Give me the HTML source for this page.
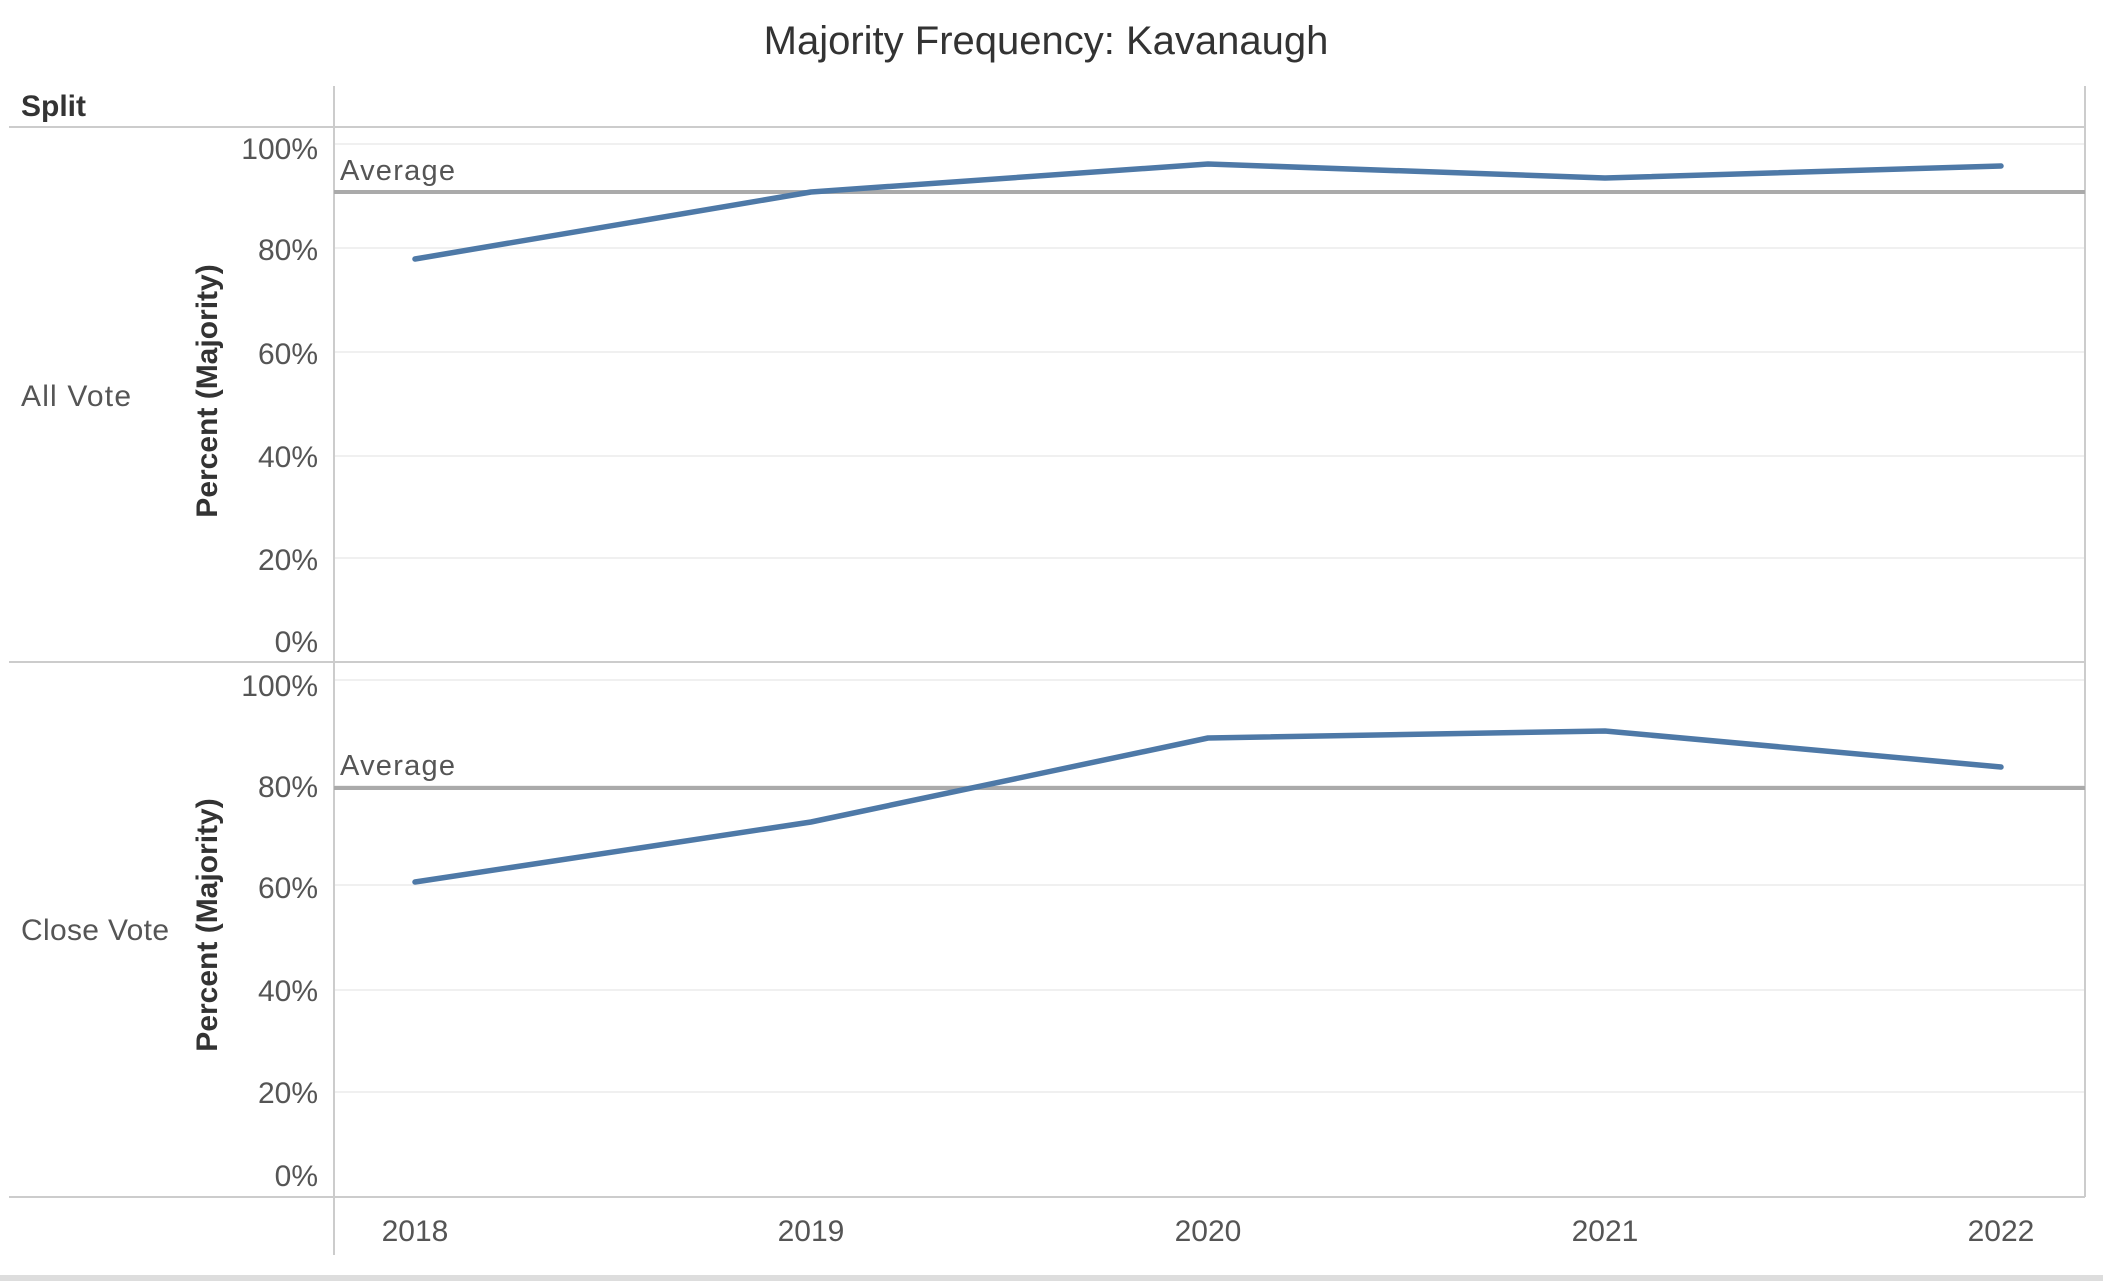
<!DOCTYPE html>
<html><head><style>body{margin:0;background:#fff}svg{display:block}</style></head><body>
<svg width="2103" height="1281" xmlns="http://www.w3.org/2000/svg" font-family="Liberation Sans, sans-serif">
<text x="1046" y="54" font-size="40" fill="#333" text-anchor="middle">Majority Frequency: Kavanaugh</text>
<text x="21" y="116" font-size="30" font-weight="bold" fill="#333">Split</text>
<g stroke="#f0f0f0" stroke-width="2">
<line x1="334" x2="2085" y1="144" y2="144"/><line x1="334" x2="2085" y1="248" y2="248"/><line x1="334" x2="2085" y1="352" y2="352"/><line x1="334" x2="2085" y1="456" y2="456"/><line x1="334" x2="2085" y1="558" y2="558"/>
<line x1="334" x2="2085" y1="680" y2="680"/><line x1="334" x2="2085" y1="786" y2="786"/><line x1="334" x2="2085" y1="885" y2="885"/><line x1="334" x2="2085" y1="990" y2="990"/><line x1="334" x2="2085" y1="1092" y2="1092"/>
</g>
<g stroke="#ccc" stroke-width="2">
<line x1="9" x2="2085" y1="127" y2="127"/>
<line x1="9" x2="2085" y1="662" y2="662"/>
<line x1="9" x2="2085" y1="1197" y2="1197"/>
<line x1="334" x2="334" y1="86" y2="1255"/>
<line x1="2085" x2="2085" y1="86" y2="1197"/>
</g>
<rect x="0" y="1275" width="2103" height="6" fill="#ddd"/>
<g stroke="#aaa" stroke-width="4">
<line x1="334" x2="2085" y1="192" y2="192"/>
<line x1="334" x2="2085" y1="788" y2="788"/>
</g>
<g font-size="29" fill="#555">
<text x="340" y="180" textLength="115">Average</text>
<text x="340" y="775" textLength="115">Average</text>
</g>
<g font-size="30" fill="#555" text-anchor="end">
<text x="318" y="159">100%</text><text x="318" y="260">80%</text><text x="318" y="364">60%</text><text x="318" y="467">40%</text><text x="318" y="570">20%</text><text x="318" y="652">0%</text>
<text x="318" y="696">100%</text><text x="318" y="797">80%</text><text x="318" y="898">60%</text><text x="318" y="1001">40%</text><text x="318" y="1103">20%</text><text x="318" y="1186">0%</text>
</g>
<g font-size="30" fill="#555">
<text x="21" y="406" textLength="110">All Vote</text>
<text x="21" y="940" textLength="148">Close Vote</text>
</g>
<g font-size="30" font-weight="bold" fill="#333" text-anchor="middle">
<text transform="translate(217,391) rotate(-90)">Percent (Majority)</text>
<text transform="translate(217,925) rotate(-90)">Percent (Majority)</text>
</g>
<g font-size="30" fill="#555" text-anchor="middle">
<text x="415" y="1241">2018</text><text x="811" y="1241">2019</text><text x="1208" y="1241">2020</text><text x="1605" y="1241">2021</text><text x="2001" y="1241">2022</text>
</g>
<g fill="none" stroke="#4e79a7" stroke-width="5.5" stroke-linecap="round" stroke-linejoin="round">
<polyline points="415,259 811,192 1208,164 1605,178 2001,166"/>
<polyline points="415,882 811,822 1208,738 1605,731 2001,767"/>
</g>
</svg>
</body></html>
